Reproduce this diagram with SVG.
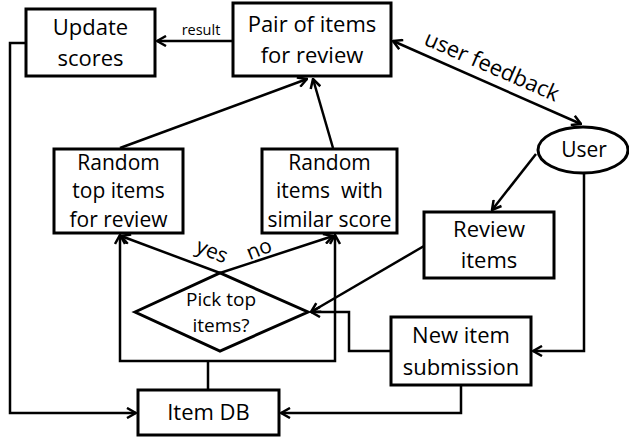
<svg xmlns="http://www.w3.org/2000/svg" width="629" height="440" viewBox="0 0 629 440">
<style>
.box{fill:#fff;stroke:#000;stroke-width:3}
.t{font-family:"Open Sans","Noto Sans",sans-serif;font-size:22px;fill:#000;text-anchor:middle}
.t21{font-size:21px}
.c{fill:none;stroke:#000;stroke-width:2.5}
.a{marker-end:url(#ah)}
</style>
<defs>
<marker id="ah" viewBox="0 0 12 12" refX="11" refY="6" markerWidth="12" markerHeight="12" markerUnits="userSpaceOnUse" orient="auto-start-reverse">
<path d="M2,1 L11,6 L2,11" fill="none" stroke="#000" stroke-width="2.5"/>
</marker>
</defs>
<rect width="629" height="440" fill="#fff"/>
<g id="connectors">
<path class="c a" d="M233,41 L157,41"/>
<path class="c a" d="M393,41 L581,124" marker-start="url(#ah)"/>
<path class="c a" d="M120,148 L307,79"/>
<path class="c a" d="M333,148 L313,79"/>
<path class="c a" d="M536,154 L492,210"/>
<path class="c a" d="M424,246 L311,312"/>
<path class="c a" d="M584,173 L584,351 L533,351"/>
<path class="c a" d="M391,351 L349,351 L349,312 L311,312"/>
<path class="c a" d="M461,385 L461,413 L281,413"/>
<path class="c a" d="M26,43 L10,43 L10,413 L136,413"/>
<path class="c a" d="M120,235 L120,361 L335,361 L335,235" marker-start="url(#ah)"/>
<path class="c" d="M208,361 L208,390"/>
<path class="c a" d="M220,273 L121,236"/>
<path class="c a" d="M220,273 L333,236"/>
<text class="t" x="201" y="35" style="font-size:14.5px">result</text>
<text class="t" transform="translate(489,73) rotate(23.5)">user feedback</text>
<text class="t t21" transform="translate(212,251) rotate(22)" y="7">yes</text>
<text class="t t21" transform="translate(259,249) rotate(-22)" y="7">no</text>
</g>
<g id="update-scores">
<rect class="box" x="26" y="9" width="129" height="67"/>
<text class="t" x="90.5" y="35">Update</text>
<text class="t" x="90.5" y="66">scores</text>
</g>
<g id="pair">
<rect class="box" x="233" y="3" width="158" height="73"/>
<text class="t" x="312" y="32">Pair of items</text>
<text class="t" x="312" y="63">for review</text>
</g>
<g id="random-top">
<rect class="box" x="54" y="149" width="129" height="84"/>
<text class="t t21" x="118.5" y="170">Random</text>
<text class="t t21" x="118.5" y="198">top items</text>
<text class="t t21" x="118.5" y="227">for review</text>
</g>
<g id="random-similar">
<rect class="box" x="262" y="149" width="135" height="84"/>
<text class="t t21" x="329.5" y="170">Random</text>
<text class="t t21" x="329.5" y="198" style="white-space:pre">items  with</text>
<text class="t t21" x="329.5" y="227">similar score</text>
</g>
<g id="pick-top">
<polygon class="box" style="fill:none" points="135,312 220,273 308,312 220,351"/>
<text class="t" x="221" y="306" style="font-size:19px">Pick top</text>
<text class="t" x="221" y="332" style="font-size:19px">items?</text>
</g>
<g id="user">
<ellipse class="box" cx="583" cy="150" rx="45" ry="23"/>
<text class="t t21" x="584" y="157">User</text>
</g>
<g id="review-items">
<rect class="box" x="424" y="212" width="130" height="66"/>
<text class="t" x="489" y="237">Review</text>
<text class="t" x="489" y="268">items</text>
</g>
<g id="new-item">
<rect class="box" x="391" y="317" width="140" height="68"/>
<text class="t" x="461" y="343">New item</text>
<text class="t" x="461" y="375">submission</text>
</g>
<g id="item-db">
<rect class="box" x="138" y="390" width="141" height="45"/>
<text class="t" x="208.5" y="420">Item DB</text>
</g>
</svg>
